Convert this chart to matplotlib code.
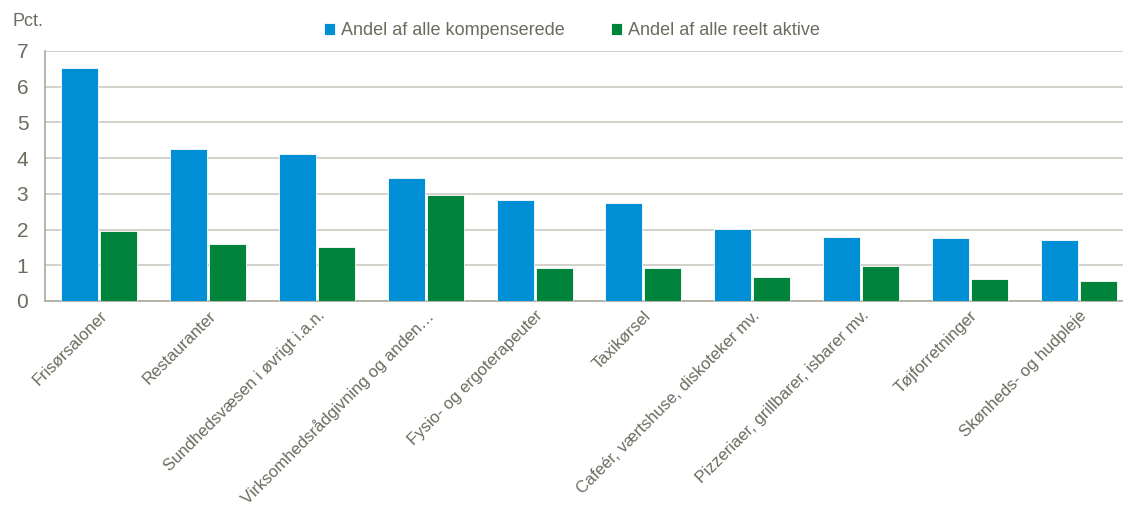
import matplotlib.pyplot as plt
import numpy as np

# data
kategorier = [
    "Frisørsaloner",
    "Restauranter",
    "Sundhedsvæsen i øvrigt i.a.n.",
    "Virksomhedsrådgivning og anden…",
    "Fysio- og ergoterapeuter",
    "Taxikørsel",
    "Cafeér, værtshuse, diskoteker mv.",
    "Pizzeriaer, grillbarer, isbarer mv.",
    "Tøjforretninger",
    "Skønheds- og hudpleje",
]
kompenserede = [6.52, 4.26, 4.12, 3.44, 2.82, 2.75, 2.01, 1.79, 1.76, 1.70]
reelt_aktive = [1.97, 1.61, 1.51, 2.98, 0.92, 0.92, 0.66, 0.99, 0.62, 0.57]

serie_navne = ["Andel af alle kompenserede", "Andel af alle reelt aktive"]
BLAA = "#008fd5"
GROEN = "#00843c"
TEKST = "#6b6b5e"

plt.rcParams["font.family"] = ["Liberation Sans", "DejaVu Sans"]

fig = plt.figure(figsize=(11.23, 5.13), dpi=100)
# axes left at ~45px, bottom at 301px, top at 51px; runs a bit past the right edge
ax = fig.add_axes([45 / 1123, 212 / 513, 1088 / 1123, 250 / 513])

x = np.arange(len(kategorier))
w = 0.34
ax.bar(x - 0.18, kompenserede, w, color=BLAA, edgecolor="white", linewidth=0.6,
       label=serie_navne[0], zorder=3)
ax.bar(x + 0.18, reelt_aktive, w, color=GROEN, edgecolor="white", linewidth=0.6,
       label=serie_navne[1], zorder=3)

ax.set_xlim(-0.5, len(kategorier) - 0.5)
ax.set_ylim(0, 7)
ax.set_yticks(range(0, 8))
ax.grid(axis="y", color="#cfcfc7", linewidth=1.3, zorder=0)
ax.set_axisbelow(True)

for side in ["top", "right"]:
    ax.spines[side].set_visible(False)
for side in ["left", "bottom"]:
    ax.spines[side].set_color("#a8a89a")
    ax.spines[side].set_linewidth(1.2)

ax.tick_params(axis="y", length=0, pad=12, labelsize=15, labelcolor=TEKST)
ax.tick_params(axis="x", length=0, pad=5, labelsize=12, labelcolor=TEKST)
ax.set_xticks(x)
ax.set_xticklabels(kategorier, rotation=45, ha="right", va="top",
                   rotation_mode="anchor")

fig.text(12 / 1123, 1 - 22 / 513, "Pct.", fontsize=13, color=TEKST,
         ha="left", va="center")

leg = fig.legend(loc="center", bbox_to_anchor=(572 / 1123, 1 - 31 / 513), ncol=2,
                 frameon=False, fontsize=13, handlelength=0.6, handleheight=0.6,
                 handletextpad=0.3, columnspacing=2.6, labelcolor=TEKST)

plt.savefig("out.png", dpi=100)
